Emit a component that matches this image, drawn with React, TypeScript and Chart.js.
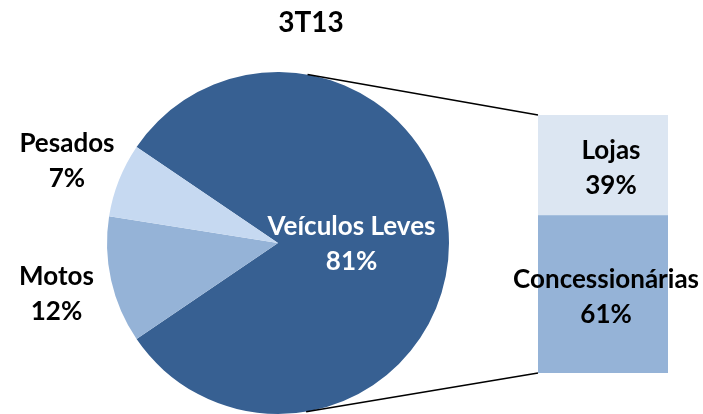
import React, { useEffect, useRef } from 'react';
import { Chart, registerables } from 'chart.js';

Chart.register(...registerables);

const chartTitle = '3T13';
const pieCategories = ['Veículos Leves', 'Motos', 'Pesados'];
const pieValues = [81, 12, 7];
const pieColors = ['#376092', '#95B3D7', '#C6D9F1'];

const barCategories = ['Veículos Leves'];
const barSeries = ['Concessionárias', 'Lojas'];
const barValues = [61, 39];
const barColors = ['#95B3D7', '#DCE6F2'];

const W = 703;
const H = 414;
const FONT = 'Lato, "Open Sans", sans-serif';
const LABEL_SIZE = 26;
const LINE = 35;
const CAP = LABEL_SIZE * 0.72;

function drawBlock(ctx: CanvasRenderingContext2D, lines: string[], cx: number, cy: number) {
  const n = lines.length;
  lines.forEach((t, k) => {
    const base = cy + (k - (n - 1) / 2) * LINE + CAP / 2;
    ctx.fillText(t, cx, base);
  });
}

export default function App() {
  const pieRef = useRef<HTMLCanvasElement>(null);
  const barRef = useRef<HTMLCanvasElement>(null);

  useEffect(() => {
    if (!pieRef.current || !barRef.current) return;

    const pieLabelPlugin = {
      id: 'pieLabels',
      afterDatasetsDraw(chart: any) {
        const ctx = chart.ctx as CanvasRenderingContext2D;
        const meta = chart.getDatasetMeta(0);
        ctx.save();
        ctx.font = `bold ${LABEL_SIZE}px ${FONT}`;
        ctx.textAlign = 'center';
        ctx.textBaseline = 'alphabetic';
        meta.data.forEach((arc: any, i: number) => {
          const { x, y, startAngle, endAngle, outerRadius } = arc.getProps(
            ['x', 'y', 'startAngle', 'endAngle', 'outerRadius'],
            true
          );
          const mid = (startAngle + endAngle) / 2;
          const inside = i === 0;
          const dist = inside ? outerRadius * 0.43 : outerRadius + 56;
          const cx = x + Math.cos(mid) * dist;
          const cy = y + Math.sin(mid) * dist + (inside ? 0 : 1);
          ctx.fillStyle = inside ? '#ffffff' : '#000000';
          drawBlock(ctx, [pieCategories[i], pieValues[i] + '%'], cx, cy);
        });
        ctx.font = `bold 28px ${FONT}`;
        ctx.fillStyle = '#000000';
        ctx.fillText(chartTitle, 311, 32);
        ctx.restore();
      },
    };

    const pieChart = new Chart(pieRef.current, {
      type: 'pie',
      data: {
        labels: pieCategories,
        datasets: [
          {
            data: pieValues,
            backgroundColor: pieColors,
            borderWidth: 0,
            hoverOffset: 0,
            offset: 0,
          },
        ],
      },
      options: {
        responsive: false,
        animation: false,
        devicePixelRatio: 1,
        events: [],
        rotation: 90 - (pieValues[0] / 100) * 180,
        radius: '100%',
        layout: { padding: { left: 107, right: 254, top: 72, bottom: 0 } },
        plugins: { legend: { display: false }, tooltip: { enabled: false }, title: { display: false } },
      },
      plugins: [pieLabelPlugin],
    } as any);

    const barPlugin = {
      id: 'barExtras',
      afterDatasetsDraw(chart: any) {
        const ctx = chart.ctx as CanvasRenderingContext2D;
        ctx.save();
        ctx.font = `bold ${LABEL_SIZE}px ${FONT}`;
        ctx.textAlign = 'center';
        ctx.textBaseline = 'alphabetic';
        ctx.fillStyle = '#000000';
        barSeries.forEach((name, i) => {
          const el: any = chart.getDatasetMeta(i).data[0];
          const { x, y, base } = el.getProps(['x', 'y', 'base'], true);
          const lines = [name, barValues[i] + '%'];
          const maxW = Math.max(...lines.map((t) => ctx.measureText(t).width));
          let cx = x + 8;
          if (cx + maxW / 2 > W - 4) cx = W - 4 - maxW / 2;
          drawBlock(ctx, lines, cx, (y + base) / 2 + 2);
        });
        ctx.restore();
      },
      afterDraw(chart: any) {
        const arc: any = pieChart.getDatasetMeta(0).data[0];
        if (!arc) return;
        const { x: pcx, y: pcy, outerRadius: r } = arc.getProps(['x', 'y', 'outerRadius'], true);
        const bottomEl: any = chart.getDatasetMeta(0).data[0];
        const topEl: any = chart.getDatasetMeta(barSeries.length - 1).data[0];
        const tp = topEl.getProps(['x', 'y', 'width'], true);
        const bp = bottomEl.getProps(['x', 'base', 'width'], true);
        const corners = [
          { px: tp.x - tp.width / 2, py: tp.y, sign: -1 },
          { px: bp.x - bp.width / 2, py: bp.base, sign: 1 },
        ];
        const ctx = chart.ctx as CanvasRenderingContext2D;
        ctx.save();
        ctx.strokeStyle = '#000000';
        ctx.lineWidth = 1.5;
        corners.forEach(({ px, py, sign }) => {
          const dx = px - pcx;
          const dy = py - pcy;
          const d = Math.hypot(dx, dy);
          const theta = Math.atan2(dy, dx);
          const alpha = Math.acos(Math.min(1, r / d));
          const a = theta + sign * alpha;
          ctx.beginPath();
          ctx.moveTo(pcx + Math.cos(a) * r, pcy + Math.sin(a) * r);
          ctx.lineTo(px, py);
          ctx.stroke();
        });
        ctx.restore();
      },
    };

    const barChart = new Chart(barRef.current, {
      type: 'bar',
      data: {
        labels: barCategories,
        datasets: barSeries.map((s, i) => ({
          label: s,
          data: [barValues[i]],
          backgroundColor: barColors[i],
          borderWidth: 0,
          barPercentage: 1,
          categoryPercentage: 1,
        })),
      },
      options: {
        responsive: false,
        animation: false,
        devicePixelRatio: 1,
        events: [],
        layout: { padding: { left: 538, right: 35, top: 115, bottom: 41 } },
        scales: {
          x: { stacked: true, display: false },
          y: { stacked: true, display: false, min: 0, max: 100 },
        },
        plugins: { legend: { display: false }, tooltip: { enabled: false }, title: { display: false } },
      },
      plugins: [barPlugin],
    } as any);

    return () => {
      barChart.destroy();
      pieChart.destroy();
    };
  }, []);

  return (
    <div style={{ position: 'fixed', left: 0, top: 0, width: W, height: H, background: '#ffffff' }}>
      <canvas ref={pieRef} width={W} height={H} style={{ position: 'absolute', left: 0, top: 0 }} />
      <canvas ref={barRef} width={W} height={H} style={{ position: 'absolute', left: 0, top: 0 }} />
    </div>
  );
}
